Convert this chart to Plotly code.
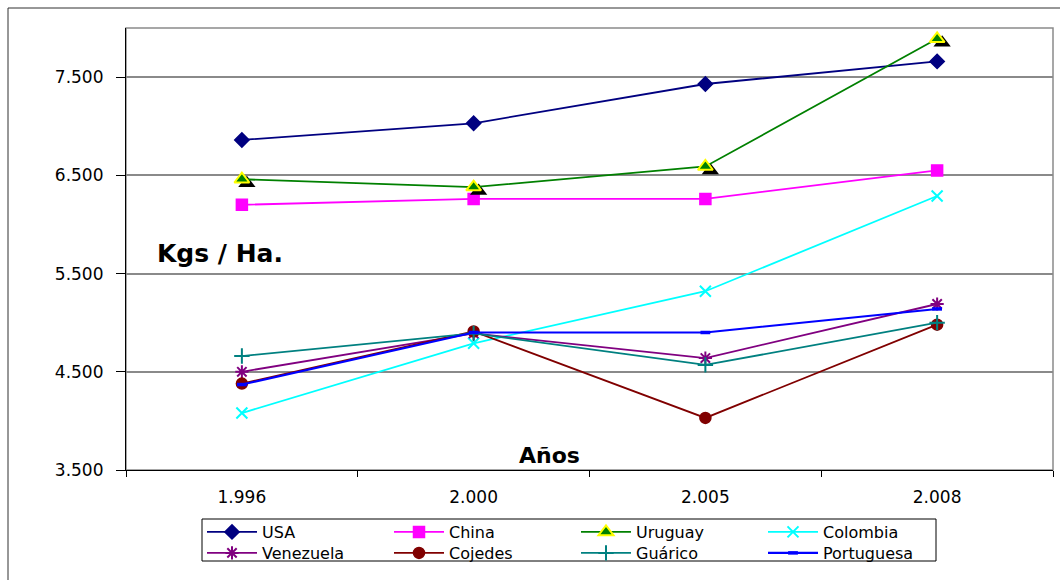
import plotly.graph_objects as go

# Rendimiento por hectárea (Kgs / Ha.) por año
years = ["1.996", "2.000", "2.005", "2.008"]

usa = [6860, 7030, 7430, 7660]
china = [6200, 6260, 6260, 6550]
uruguay = [6460, 6380, 6590, 7890]
colombia = [4080, 4790, 5320, 6290]
venezuela = [4500, 4890, 4640, 5190]
cojedes = [4380, 4910, 4030, 4980]
guarico = [4660, 4890, 4570, 5000]
portuguesa = [4370, 4900, 4900, 5140]

y_ticks = [3500, 4500, 5500, 6500, 7500]

FONT = "DejaVu Sans, Arial, sans-serif"

# plot area in pixels (used to convert pixel offsets to paper/axis units)
PLOT_L, PLOT_B = 126, 470
PLOT_W = 927
PLOT_H = 442
Y_MIN, Y_MAX = 3500, 8000
SHADOW_DX, SHADOW_DY = 5, 4
px_per_cat = PLOT_W / len(years)
px_per_unit = PLOT_H / (Y_MAX - Y_MIN)


def px_x(px):
    return (px - PLOT_L) / PLOT_W


def px_y(py):
    return (PLOT_B - py) / PLOT_H


fig = go.Figure()

# black drop shadow behind the Uruguay triangles (drawn first, lowest)
fig.add_trace(go.Scatter(
    x=years, y=uruguay, mode="markers", showlegend=False, hoverinfo="skip",
    marker=dict(symbol="triangle-up", size=15, color="black"),
    xaxis="x2", yaxis="y2", cliponaxis=False,
))


def add_series(name, values, color, symbol, size, legend, mline=None,
               width=1.8, axes=("x", "y"), mline_w=1.5):
    marker = dict(symbol=symbol, size=size, color=color,
                  line=dict(color=mline or color, width=mline_w))
    fig.add_trace(go.Scatter(
        x=years, y=values, name=name, mode="lines+markers",
        line=dict(color=color, width=width), marker=marker,
        xaxis=axes[0], yaxis=axes[1], cliponaxis=False, legend=legend,
    ))


# first legend row
add_series("USA", usa, "#000080", "diamond", 11, "legend")
add_series("China", china, "#FF00FF", "square", 11, "legend")
# Uruguay sits on its own overlay so it is drawn above its shadow
add_series("Uruguay", uruguay, "#008000", "triangle-up", 13, "legend",
           mline="#FFFF00", axes=("x3", "y3"), mline_w=2)
add_series("Colombia", colombia, "#00FFFF", "x-thin-open", 11, "legend",
           mline_w=2)
# second legend row
add_series("Venezuela", venezuela, "#800080", "asterisk-open", 11, "legend2",
           mline_w=2)
add_series("Cojedes", cojedes, "#800000", "circle", 11, "legend2")
add_series("Guárico", guarico, "#008080", "cross-thin-open", 11, "legend2",
           mline_w=2)
add_series("Portuguesa", portuguesa, "#0000FF", "line-ew-open", 7, "legend2",
           width=2.1, mline_w=3.5)

eps = SHADOW_DX / px_per_cat
dlt = SHADOW_DY / px_per_unit

legend_style = dict(
    orientation="h", xanchor="left", yanchor="top",
    borderwidth=0, bgcolor="rgba(0,0,0,0)",
    font=dict(family=FONT, size=16),
    itemwidth=50, entrywidth=122, entrywidthmode="pixels",
    tracegroupgap=0, traceorder="normal",
)

fig.update_layout(
    width=1060, height=580,
    margin=dict(l=PLOT_L, r=7, t=28, b=110, autoexpand=False),
    paper_bgcolor="white", plot_bgcolor="white",
    separators=",.",
    font=dict(family=FONT, color="black", size=16),
    showlegend=True,
    legend=dict(legend_style, x=px_x(202), y=px_y(515)),
    legend2=dict(legend_style, x=px_x(202), y=px_y(536)),
    xaxis=dict(
        type="category", categoryorder="array", categoryarray=years,
        range=[-0.5, 3.5], tickson="boundaries", ticks="outside", ticklen=6,
        tickcolor="black", showline=True, linecolor="black", linewidth=1.2,
        showgrid=False, zeroline=False,
        tickfont=dict(family=FONT, size=17), ticklabelstandoff=11,
    ),
    yaxis=dict(
        range=[Y_MIN, Y_MAX], tickvals=y_ticks, tickformat=",d",
        ticks="outside", ticklen=9, tickcolor="black",
        showline=True, linecolor="black", linewidth=1.2,
        showgrid=True, gridcolor="#8a8a8a", gridwidth=1.5, zeroline=False,
        tickfont=dict(family=FONT, size=17), ticklabelstandoff=9,
    ),
    xaxis2=dict(type="category", categoryorder="array", categoryarray=years,
                overlaying="x", range=[-0.5 - eps, 3.5 - eps], visible=False),
    yaxis2=dict(overlaying="y", range=[Y_MIN + dlt, Y_MAX + dlt], visible=False),
    xaxis3=dict(type="category", categoryorder="array", categoryarray=years,
                overlaying="x", range=[-0.5, 3.5], visible=False),
    yaxis3=dict(overlaying="y", range=[Y_MIN, Y_MAX], visible=False),
    annotations=[
        dict(text="<b>Kgs / Ha.</b>", x=px_x(220), y=px_y(254), xref="paper",
             yref="paper", showarrow=False, xanchor="center", yanchor="middle",
             font=dict(family=FONT, size=25, color="black")),
        dict(text="<b>Años</b>", x=px_x(549), y=px_y(455), xref="paper",
             yref="paper", showarrow=False, xanchor="center", yanchor="middle",
             font=dict(family=FONT, size=22, color="black")),
    ],
    shapes=[
        # plot area frame (top and right edges in gray)
        dict(type="rect", xref="paper", yref="paper", x0=0, x1=1, y0=0, y1=1,
             line=dict(color="#8a8a8a", width=1.5), layer="below"),
        # outer chart frame
        dict(type="rect", xref="paper", yref="paper",
             x0=px_x(8), x1=px_x(1075), y0=px_y(595), y1=px_y(8),
             line=dict(color="#303030", width=1), layer="below"),
        # legend box
        dict(type="rect", xref="paper", yref="paper",
             x0=px_x(202), x1=px_x(936), y0=px_y(561), y1=px_y(519),
             line=dict(color="black", width=1), layer="below"),
    ],
)

fig.write_html("out.html")
